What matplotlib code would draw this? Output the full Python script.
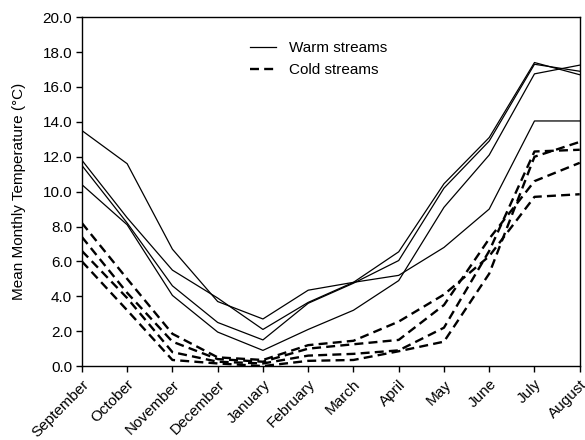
import matplotlib
matplotlib.use('Agg')
import matplotlib.pyplot as plt
from matplotlib.lines import Line2D

plt.rcParams['font.family'] = ['Liberation Sans', 'DejaVu Sans']

months = ['September', 'October', 'November', 'December', 'January', 'February',
          'March', 'April', 'May', 'June', 'July', 'August']

# warm streams (solid lines)
warm_a = [13.5, 11.6, 6.7, 3.7, 2.7, 4.35, 4.8, 5.2, 6.8, 9.0, 14.05, 14.05]
warm_b = [11.8, 8.5, 5.5, 3.9, 2.1, 3.65, 4.8, 6.55, 10.45, 13.1, 17.4, 16.7]
warm_c = [11.5, 8.2, 4.6, 2.5, 1.5, 3.6, 4.75, 6.05, 10.2, 12.9, 17.3, 16.9]
warm_d = [10.4, 8.1, 4.05, 1.95, 0.9, 2.1, 3.2, 4.9, 9.1, 12.1, 16.75, 17.25]

# cold streams (dashed lines)
cold_e = [8.2, 5.0, 1.85, 0.5, 0.35, 1.2, 1.45, 2.55, 4.1, 6.3, 9.7, 9.85]
cold_f = [7.4, 4.2, 1.4, 0.4, 0.25, 1.0, 1.25, 1.5, 3.5, 7.3, 10.6, 11.65]
cold_g = [6.6, 3.9, 0.8, 0.25, 0.15, 0.6, 0.7, 0.9, 2.2, 6.6, 12.3, 12.4]
cold_h = [6.0, 3.2, 0.35, 0.15, 0.0, 0.3, 0.35, 0.85, 1.4, 5.3, 12.0, 12.85]

warm = [warm_a, warm_b, warm_c, warm_d]
cold = [cold_e, cold_f, cold_g, cold_h]

fig = plt.figure(figsize=(5.85, 4.4), dpi=100)
ax = fig.add_axes([0.140, 0.168, 0.851, 0.793])

x = list(range(len(months)))
for w in warm:
    ax.plot(x, w, color='black', lw=0.9)
for c in cold:
    ax.plot(x, c, color='black', lw=1.7, dashes=(3.8, 2.2))

ax.set_xlim(0, 11)
ax.set_ylim(0, 20)
ax.set_yticks([0, 2, 4, 6, 8, 10, 12, 14, 16, 18, 20])
ax.set_yticklabels(['%.1f' % v for v in ax.get_yticks()], fontsize=11)
ax.set_xticks(x)
ax.set_xticklabels(months, rotation=45, ha='right', rotation_mode='anchor', fontsize=11)
ax.tick_params(direction='out', length=4, width=1, pad=3)
ax.tick_params(axis='x', pad=4)
for s in ax.spines.values():
    s.set_linewidth(1)

ax.set_ylabel('Mean Monthly Temperature (\u00b0C)', fontsize=11, labelpad=12)

handles = [Line2D([], [], color='black', lw=0.9),
           Line2D([], [], color='black', lw=1.7, dashes=(3.8, 2.2))]
ax.legend(handles, ['Warm streams', 'Cold streams'], loc='upper left',
          bbox_to_anchor=(0.311, 0.97), frameon=False, fontsize=11,
          handlelength=1.7, handletextpad=0.8, labelspacing=0.5)

fig.savefig('out.png', dpi=100)
